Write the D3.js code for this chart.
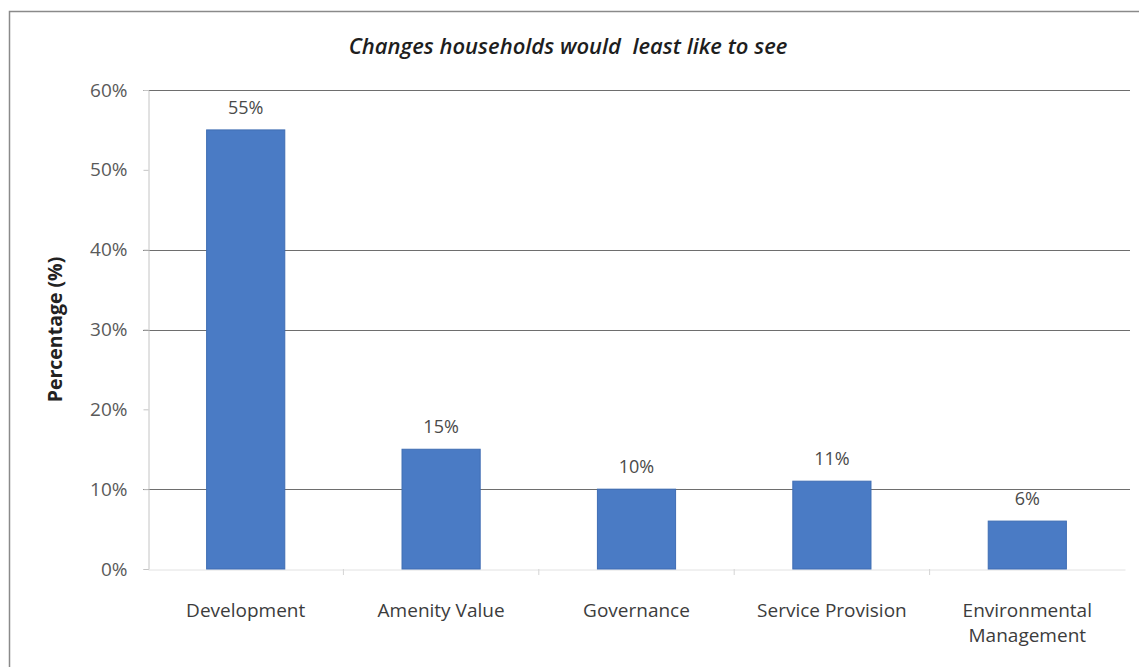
<!DOCTYPE html>
<html>
<head>
<meta charset="utf-8">
<script src="https://cdn.jsdelivr.net/npm/d3@7"></script>
<style>
  html, body { margin: 0; padding: 0; background: #fff; }
  svg { display: block; }
</style>
</head>
<body>
<svg id="chart" width="1139" height="667"></svg>
<script>
// Survey responses: changes households would least like to see
const categories = ["Development", "Amenity Value", "Governance", "Service Provision", "Environmental Management"];
const values = [55, 15, 10, 11, 6];
const yTicks = [0, 10, 20, 30, 40, 50, 60];
const gridTicks = [10, 30, 40, 60];
const titleText = "Changes households would  least like to see";
const yLabel = "Percentage (%)";

const svg = d3.select("#chart");
const W = 1139, H = 667;
const margin = { left: 148, right: 14, top: 90, bottom: 98 };
const font = "'Open Sans', sans-serif";

// Outer frame
svg.append("rect")
  .attr("x", 9.5).attr("y", 11.5)
  .attr("width", W).attr("height", H)
  .attr("fill", "#fff").attr("stroke", "#8a8a8a").attr("stroke-width", 1.5);

const x = d3.scaleBand()
  .domain(categories)
  .range([margin.left, W - margin.right])
  .paddingInner(0.6).paddingOuter(0.3);

const y = d3.scaleLinear()
  .domain([0, 60])
  .range([H - margin.bottom, margin.top]);

// Horizontal gridlines
svg.append("g").selectAll("line")
  .data(gridTicks)
  .join("line")
  .attr("x1", margin.left - 5).attr("x2", W - 9)
  .attr("y1", d => Math.round(y(d)) + 0.5).attr("y2", d => Math.round(y(d)) + 0.5)
  .attr("stroke", "#6e6e6e").attr("stroke-width", 1.2);

// Y axis
const yAxis = d3.axisLeft(y)
  .tickValues(yTicks)
  .tickFormat(d => d + "%")
  .tickSize(5).tickPadding(16);
const gy = svg.append("g")
  .attr("transform", `translate(${margin.left + 0.5},0)`)
  .call(yAxis);
gy.select(".domain").attr("stroke", "#c4c4c4");
gy.selectAll(".tick line").attr("stroke", "#c4c4c4");
gy.selectAll(".tick text")
  .attr("fill", "#5a5a5a")
  .style("font-family", font)
  .style("font-size", "19px");

// X axis (category ticks)
const xAxis = d3.axisBottom(x).tickSize(0).tickPadding(0).tickFormat("");
const gx = svg.append("g")
  .attr("transform", `translate(0,${y(0) + 0.5})`)
  .call(xAxis);
gx.select(".domain").attr("stroke", "#e2e2e2");
const step = x.step();
svg.append("g").selectAll("line")
  .data(categories.slice(1))
  .join("line")
  .attr("x1", d => x(d) - step * x.paddingInner() / 2)
  .attr("x2", d => x(d) - step * x.paddingInner() / 2)
  .attr("y1", y(0)).attr("y2", y(0) + 6)
  .attr("stroke", "#d4d4d4");

// Bars
svg.append("g").selectAll("rect")
  .data(values)
  .join("rect")
  .attr("x", (d, i) => x(categories[i]))
  .attr("y", d => y(d))
  .attr("width", x.bandwidth())
  .attr("height", d => y(0) - y(d))
  .attr("fill", "#4a7bc5")
  .attr("stroke", "#3f6db3")
  .attr("stroke-width", 1);

// Value labels
svg.append("g").selectAll("text")
  .data(values)
  .join("text")
  .attr("x", (d, i) => x(categories[i]) + x.bandwidth() / 2)
  .attr("y", d => y(d) - 16)
  .attr("text-anchor", "middle")
  .attr("fill", "#4a4a4a")
  .style("font-family", font)
  .style("font-size", "18px")
  .text(d => d + "%");

// Category labels (wrapped where needed)
const catLines = { "Environmental Management": ["Environmental", "Management"] };
const catG = svg.append("g").selectAll("text")
  .data(categories)
  .join("text")
  .attr("x", d => x(d) + x.bandwidth() / 2)
  .attr("y", 617)
  .attr("text-anchor", "middle")
  .attr("fill", "#3c3c3c")
  .style("font-family", font)
  .style("font-size", "19px");
catG.each(function(d) {
  const lines = catLines[d] || [d];
  const t = d3.select(this);
  lines.forEach((ln, k) => {
    t.append("tspan")
      .attr("x", x(d) + x.bandwidth() / 2)
      .attr("dy", k === 0 ? 0 : 25)
      .text(ln);
  });
});

// Title
svg.append("text")
  .attr("x", 568).attr("y", 54)
  .attr("text-anchor", "middle")
  .attr("fill", "#1e1e1e")
  .style("font-family", font)
  .style("font-style", "italic")
  .style("font-weight", "600")
  .style("font-size", "22px")
  .style("white-space", "pre")
  .text(titleText);

// Y axis title
svg.append("text")
  .attr("transform", `translate(62,${(y(0) + y(60)) / 2}) rotate(-90)`)
  .attr("text-anchor", "middle")
  .attr("fill", "#222")
  .style("font-family", font)
  .style("font-weight", "bold")
  .style("font-size", "19.5px")
  .text(yLabel);
</script>
</body>
</html>
